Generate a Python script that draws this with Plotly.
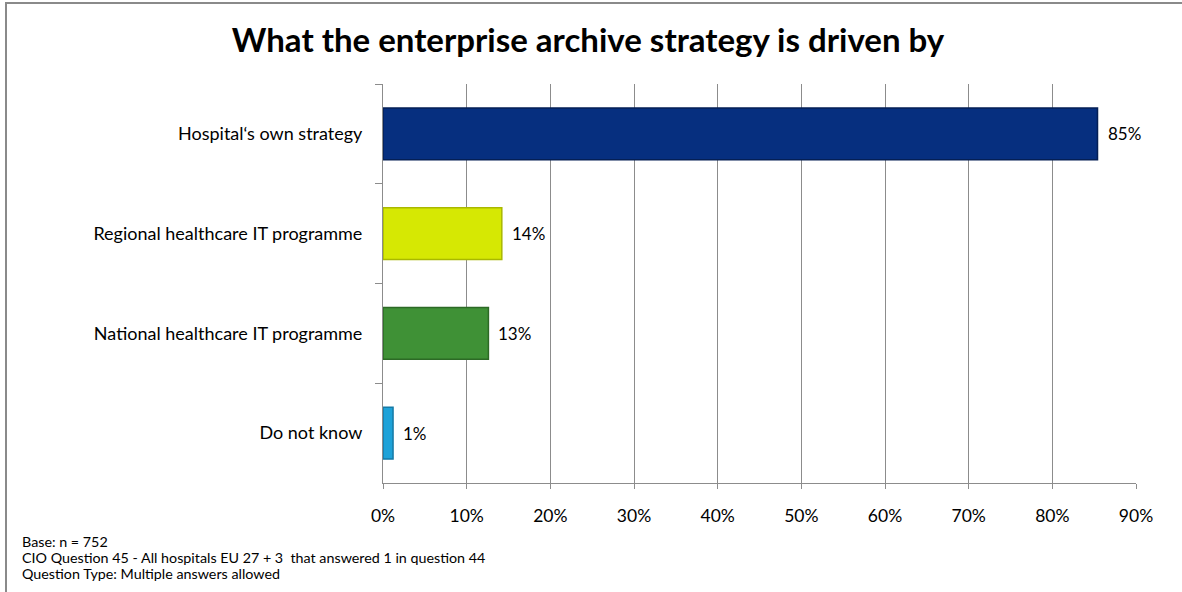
import plotly.graph_objects as go

categories = ["Hospital\u2018s own strategy", "Regional healthcare IT programme",
              "National healthcare IT programme", "Do not know"]
values = [85.4, 14.2, 12.6, 1.2]
labels = ["85%", "14%", "13%", "1%"]
colors = ["#062f7f", "#d6e803", "#3f9136", "#1ea2d8"]
edge_colors = ["#041f55", "#a9b800", "#2c6a25", "#157aa6"]
x_ticks = [0, 10, 20, 30, 40, 50, 60, 70, 80, 90]
x_tick_text = [f"{t}%" for t in x_ticks]
title_text = "What the enterprise archive strategy is driven by"
footnotes = ["Base: n = 752",
             "CIO Question 45 - All hospitals EU 27 + 3  that answered 1 in question 44",
             "Question Type: Multiple answers allowed"]

W, H = 1182, 592
L, R, T, B = 383, 46, 84, 109
PW, PH = W - L - R, H - T - B

def px_x(px):
    return (px - L) / PW

def px_y(py):
    return (H - B - py) / PH

FONT = "Lato, Calibri, sans-serif"
GRID = "#8c8c8c"

fig = go.Figure()
fig.add_trace(go.Bar(
    x=values, y=categories, orientation="h", width=0.52,
    marker=dict(color=colors, line=dict(color=edge_colors, width=1.5)),
    hoverinfo="skip",
))

for v, c, lab in zip(values, categories, labels):
    fig.add_annotation(x=v, y=c, xref="x", yref="y", text=lab, showarrow=False,
                       xanchor="left", yanchor="middle", xshift=8,
                       font=dict(family=FONT, size=17, color="#000000"))

for i, line in enumerate(footnotes):
    fig.add_annotation(x=px_x(20), y=px_y(541 + 16 * i), xref="paper", yref="paper",
                       text=line, showarrow=False, xanchor="left", yanchor="middle",
                       font=dict(family=FONT, size=14.3, color="#000000"))

# outer chart frame (top and left edges visible; right/bottom run off the page)
fig.add_shape(type="rect", xref="paper", yref="paper", layer="below",
              x0=px_x(6), x1=px_x(W + 30), y0=px_y(3), y1=px_y(H + 30),
              line=dict(color="#8a8a8a", width=2), fillcolor="rgba(0,0,0,0)")

fig.update_layout(
    width=W, height=H,
    margin=dict(l=L, r=R, t=T, b=B),
    paper_bgcolor="white", plot_bgcolor="rgba(0,0,0,0)",
    showlegend=False,
    title=dict(text=f"<b>{title_text}</b>", x=588 / W, xref="container", xanchor="center",
               y=1 - 40 / H, yref="container", yanchor="middle",
               font=dict(family=FONT, size=33, color="#000000")),
    xaxis=dict(range=[0, 90], tickvals=x_ticks, ticktext=x_tick_text,
               showgrid=True, gridcolor=GRID, gridwidth=1,
               showline=True, linecolor=GRID, linewidth=1,
               ticks="outside", ticklen=5, tickcolor=GRID,
               zeroline=False, ticklabelstandoff=12,
               tickfont=dict(family=FONT, size=17.5, color="#000000")),
    yaxis=dict(categoryorder="array", categoryarray=categories, autorange="reversed",
               showgrid=False, showline=True, linecolor=GRID, linewidth=1,
               ticks="outside", ticklen=7, tickcolor=GRID, tickson="boundaries",
               ticklabelstandoff=16,
               tickfont=dict(family=FONT, size=18, color="#000000")),
)

fig.write_html("out.html", config={"displayModeBar": False},
               post_script="document.documentElement.style.overflow='hidden';document.body.style.margin='0';document.body.style.overflow='hidden';")
